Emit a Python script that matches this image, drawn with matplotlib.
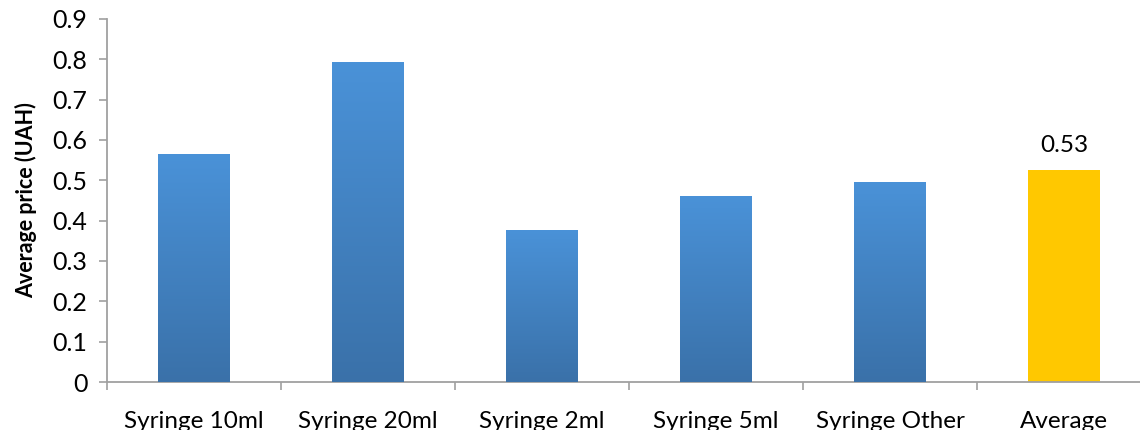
import matplotlib.pyplot as plt
import numpy as np
from matplotlib.colors import LinearSegmentedColormap

plt.rcParams['font.family'] = ['Lato', 'DejaVu Sans']

categories = ['Syringe 10ml', 'Syringe 20ml', 'Syringe 2ml', 'Syringe 5ml', 'Syringe Other', 'Average']
prices = [0.565, 0.793, 0.377, 0.461, 0.496, 0.526]
avg_label = '0.53'

grey = '#a0a0a0'
blue_grad = LinearSegmentedColormap.from_list('bg', ['#3a71a9', '#4a92d8'])

fig = plt.figure(figsize=(11.4, 4.3), dpi=100)
ax = fig.add_axes([107 / 1140, 48 / 430, 1044 / 1140, 363 / 430])

x = np.arange(len(categories))
colors = ['#4a90d6'] * (len(categories) - 1) + ['#ffc800']
bars = ax.bar(x, prices, width=0.41, color=colors, zorder=2)

# excel style vertical gradient on the blue bars
grad = np.linspace(0, 1, 256).reshape(-1, 1)
for b in bars[:-1]:
    x0, w, h = b.get_x(), b.get_width(), b.get_height()
    im = ax.imshow(grad, cmap=blue_grad, origin='lower', aspect='auto',
                   extent=(x0, x0 + w, 0, h), zorder=3)
    im.set_clip_path(b)

ax.text(x[-1], prices[-1] + 0.035, avg_label, ha='center', va='bottom', fontsize=17.5)

ax.set_xlim(-0.5, len(categories) - 0.5)
ax.set_ylim(0, 0.9)
ax.set_yticks(np.arange(0, 0.91, 0.1))
ax.set_yticklabels(['0'] + ['%.1f' % v for v in np.arange(0.1, 0.91, 0.1)])
ax.set_xticks(x)
ax.set_xticklabels(categories)
ax.set_xticks(np.arange(-0.5, len(categories), 1), minor=True)

ax.tick_params(axis='y', labelsize=18, length=6, width=1.2, color=grey, pad=8)
ax.tick_params(axis='x', which='major', labelsize=17.5, length=0, pad=21)
ax.tick_params(axis='x', which='minor', length=6, width=1.2, color=grey)

for s in ['top', 'right']:
    ax.spines[s].set_visible(False)
for s in ['left', 'bottom']:
    ax.spines[s].set_color(grey)
    ax.spines[s].set_linewidth(1.3)

ax.set_ylabel('Average price (UAH)', fontsize=15.5, fontweight='bold', labelpad=11)

fig.savefig('out.png', dpi=100)
